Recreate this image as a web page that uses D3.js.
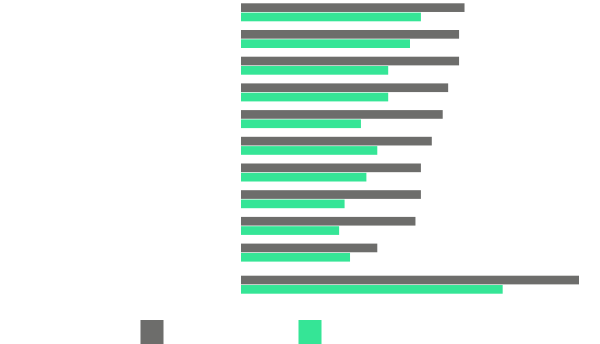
<!DOCTYPE html>
<html>
<head>
<meta charset="utf-8">
<script src="https://cdn.jsdelivr.net/npm/d3@7"></script>
<style>
  html, body { margin: 0; padding: 0; background: #ffffff; }
  svg { display: block; }
</style>
</head>
<body>
<div id="chart"></div>
<script>
// ---- data ----
const categories = ["C1", "C2", "C3", "C4", "C5", "C6", "C7", "C8", "C9", "C10", "Total"];
const seriesNames = ["Series 1", "Series 2"];
const series1Values = [41, 40, 40, 38, 37, 35, 33, 33, 32, 25, 62];
const series2Values = [33, 31, 27, 27, 22, 25, 23, 19, 18, 20, 48];
const seriesColors = ["#6d6d6b", "#35e596"];

// ---- layout ----
const W = 600, H = 344;
const svg = d3.select("#chart").append("svg").attr("width", W).attr("height", H);

const x = d3.scaleLinear().domain([0, 62]).range([241, 579]);

const step = 26.7, top0 = 3.3, extraGap = 5.4;
const y = d3.scaleBand()
  .domain(categories)
  .range([top0, top0 + step * categories.length])
  .paddingInner(0).paddingOuter(0);
const yPos = c => y(c) + (c === categories[categories.length - 1] ? extraGap : 0);

const sub = d3.scaleBand().domain([0, 1]).range([0, 18]).paddingInner(0.07);

const data = categories.map((c, i) => ({ c, v: [series1Values[i], series2Values[i]] }));

const g = svg.append("g");
const groups = g.selectAll("g.grp").data(data).join("g")
  .attr("class", "grp")
  .attr("transform", d => `translate(0,${yPos(d.c)})`);

groups.selectAll("rect").data(d => d.v.map((v, k) => ({ v, k }))).join("rect")
  .attr("x", x(0))
  .attr("y", d => sub(d.k))
  .attr("width", d => x(d.v) - x(0))
  .attr("height", sub.bandwidth())
  .attr("fill", d => seriesColors[d.k]);

// ---- legend ----
const legendX = [140.5, 298.5];
const leg = svg.selectAll("g.leg").data(seriesNames).join("g")
  .attr("class", "leg")
  .attr("transform", (d, i) => `translate(${legendX[i]},320)`);
leg.append("rect").attr("width", 23).attr("height", 24).attr("fill", (d, i) => seriesColors[i]);
</script>
</body>
</html>
